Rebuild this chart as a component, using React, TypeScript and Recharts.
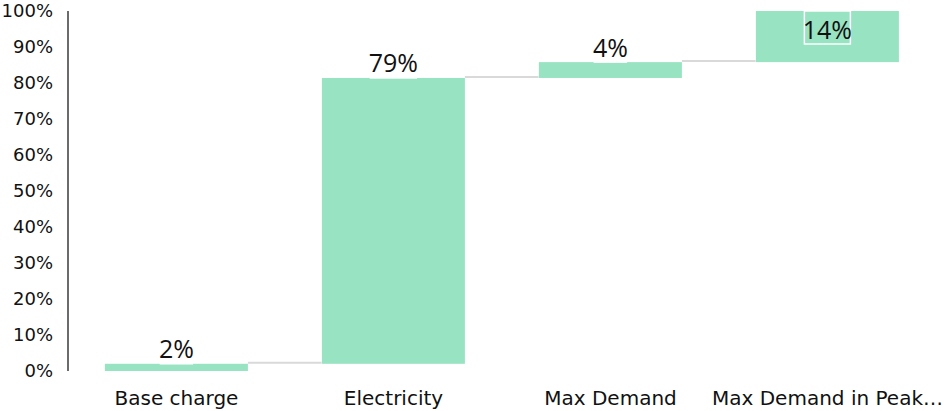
import { BarChart, Bar, XAxis, YAxis, LabelList } from "recharts";

const categories = ["Base charge", "Electricity", "Max Demand", "Max Demand in Peak…"];
const shares = [2.0, 79.4, 4.4, 14.2];
const yTicks = [0, 10, 20, 30, 40, 50, 60, 70, 80, 90, 100];

const BAR_COLOR = "#97e3c2";
const CONNECTOR_COLOR = "#d9d9d9";
const GAP = 0.17;

type Step = { name: string; start: number; share: number; end: number };

// running total: each step floats on the sum of the ones before it
const steps: Step[] = categories.map((name, i) => {
  const start = shares.slice(0, i).reduce((a, b) => a + b, 0);
  return { name, start, share: shares[i], end: start + shares[i] };
});

const tickFont = "'DejaVu Sans', Lato, sans-serif";
const labelFont = "'Open Sans', 'Noto Sans', sans-serif";

function StepBar(props: any) {
  const { x, y, width, height, index } = props;
  const band = width / (1 - 2 * GAP);
  const hasNext = index < steps.length - 1;
  return (
    <g>
      {hasNext && (
        <line
          x1={x + width}
          x2={x + band}
          y1={y - 1}
          y2={y - 1}
          stroke={CONNECTOR_COLOR}
          strokeWidth={2}
        />
      )}
      <rect x={x} y={y} width={width} height={height} fill={BAR_COLOR} />
    </g>
  );
}

function StepLabel(props: any) {
  const { x, y, width, value, index } = props;
  const text = `${Math.round(Number(value))}%`;
  const fontSize = 25;
  const boxW = text.length * fontSize * 0.56 + 4;
  const boxH = 33;
  // labels that would run past the top of the plot sit inside the bar
  const inside = steps[index].end >= 99.5;
  const boxY = inside ? y : y - boxH;
  const cx = x + width / 2;
  return (
    <g>
      <rect
        x={cx - boxW / 2}
        y={boxY}
        width={boxW}
        height={boxH}
        fill="none"
        stroke="#ffffff"
        strokeWidth={1.5}
      />
      <text
        x={cx}
        y={boxY + boxH / 2 + 1}
        textAnchor="middle"
        dominantBaseline="central"
        fontFamily={labelFont}
        fontSize={fontSize}
        fill="#111111"
      >
        {text}
      </text>
    </g>
  );
}

export default function App() {
  return (
    <div style={{ position: "absolute", left: 0, top: 0, background: "#fff" }}>
      <BarChart
        width={947}
        height={411}
        data={steps}
        margin={{ top: 11, right: 11, bottom: 0, left: 0 }}
        barCategoryGap={`${GAP * 100}%`}
      >
        <XAxis
          dataKey="name"
          height={40}
          axisLine={false}
          tickLine={false}
          tickSize={0}
          tickMargin={20}
          interval={0}
          tick={{ fontSize: 20, fill: "#111111", fontFamily: tickFont }}
        />
        <YAxis
          width={68}
          domain={[0, 100]}
          ticks={yTicks}
          tickFormatter={(v) => `${v}%`}
          axisLine={{ stroke: "#6b6b6b", strokeWidth: 2 }}
          tickLine={false}
          tickSize={0}
          tickMargin={15}
          tick={{ fontSize: 18, fill: "#111111", fontFamily: tickFont }}
        />
        <Bar dataKey="start" stackId="w" fill="transparent" isAnimationActive={false} />
        <Bar dataKey="share" stackId="w" shape={StepBar} isAnimationActive={false}>
          <LabelList dataKey="share" content={StepLabel} />
        </Bar>
      </BarChart>
    </div>
  );
}
